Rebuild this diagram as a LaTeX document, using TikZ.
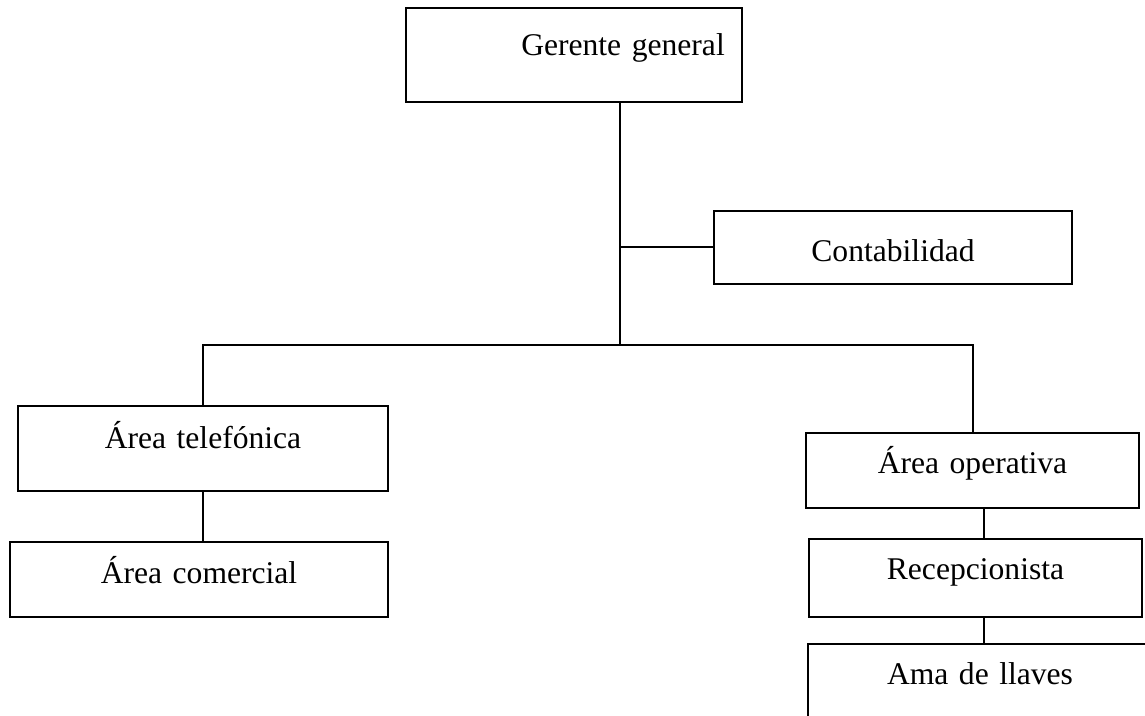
\documentclass[tikz,border=0pt]{standalone}
\usepackage{fontspec}
\setmainfont{Liberation Serif}
\usepackage{tikz}

\begin{document}
\begin{tikzpicture}[x=0.5pt, y=-0.5pt,
  unit/.style = {shape=rectangle, draw, line width=1pt,
    anchor=north west, inner sep=0pt, align=center,
    font=\fontsize{15.8}{19}\selectfont},
  link/.style = {line width=1pt}]
  \useasboundingbox (0,0) rectangle (1145,716);
  \clip (0,0) rectangle (1145,716);

  \node[unit, text width=168pt, text height=24pt, text depth=23pt]
    (gerente) at (405,7) {\hspace*{49pt}Gerente general};
  \node[unit, text width=179pt, text height=25.5pt, text depth=11pt]
    (contab) at (713,210) {Contabilidad};
  \node[unit, text width=185pt, text height=21pt, text depth=21.5pt]
    (telef) at (17,405) {Área telefónica};
  \node[unit, text width=189pt, text height=20.5pt, text depth=17pt]
    (comercial) at (9,541) {Área comercial};
  \node[unit, text width=166.5pt, text height=20pt, text depth=17.5pt]
    (operativa) at (805,432) {Área operativa};
  \node[unit, text width=166.5pt, text height=20pt, text depth=19pt]
    (recep) at (808,538) {Recepcionista};
  \node[unit, text width=172pt, text height=20pt, text depth=22pt]
    (ama) at (807,643) {Ama de llaves};

  \coordinate (bus) at (620,345);
  \coordinate (opdrop) at (984,0);

  % trunk and side branch
  \draw[link] (gerente.south -| bus) -- (bus);
  \draw[link] (contab.west -| bus) -- (contab.west);
  % bus to both areas
  \draw[link] (telef.north) |- (bus) -| (operativa.north);
  % chains below
  \draw[link] (telef.south) -- (telef.south |- comercial.north);
  \draw[link] (operativa.south -| opdrop) -- (recep.north -| opdrop);
  \draw[link] (recep.south -| opdrop) -- (ama.north -| opdrop);
\end{tikzpicture}
\end{document}
